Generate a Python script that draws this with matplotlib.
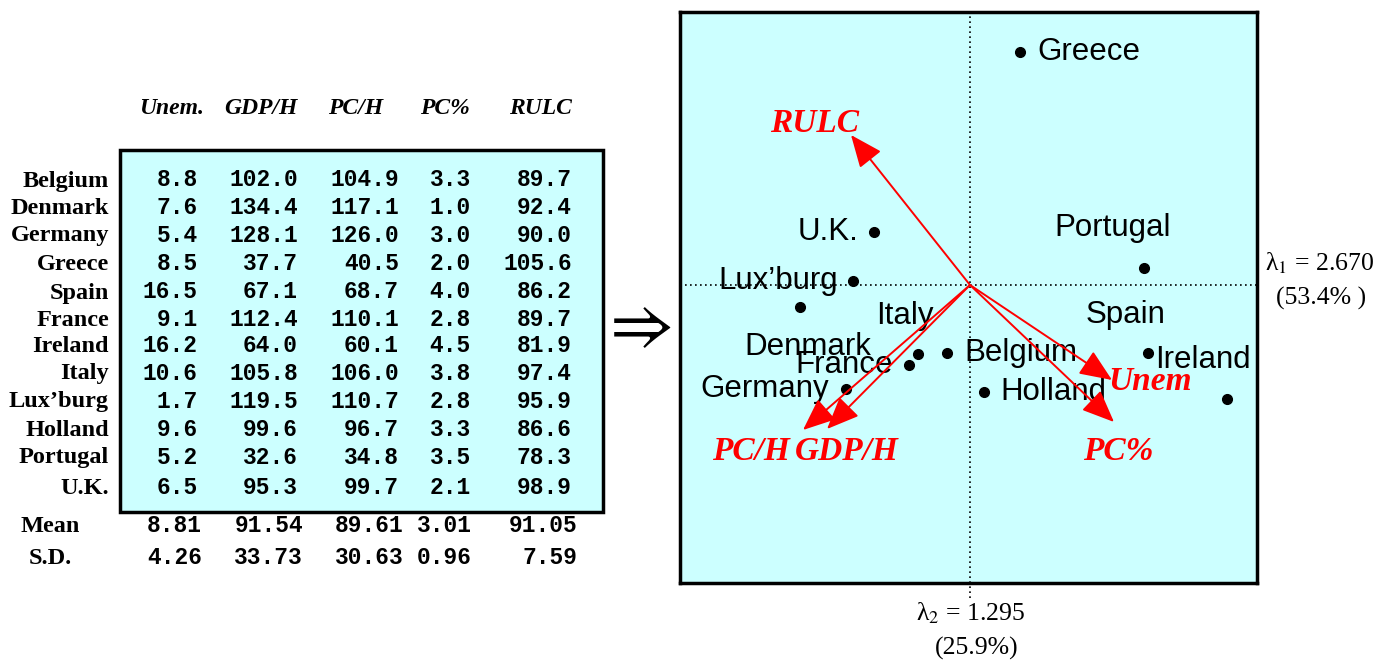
import matplotlib
matplotlib.use('Agg')
import matplotlib.pyplot as plt
from matplotlib.patches import Rectangle

plt.rcParams['mathtext.fontset'] = 'stix'

# table data
countries = ['Belgium', 'Denmark', 'Germany', 'Greece', 'Spain', 'France',
             'Ireland', 'Italy', "Lux\u2019burg", 'Holland', 'Portugal', 'U.K.']
variables = ['Unem.', 'GDP/H', 'PC/H', 'PC%', 'RULC']
unem = [8.8, 7.6, 5.4, 8.5, 16.5, 9.1, 16.2, 10.6, 1.7, 9.6, 5.2, 6.5]
gdph = [102.0, 134.4, 128.1, 37.7, 67.1, 112.4, 64.0, 105.8, 119.5, 99.6, 32.6, 95.3]
pch = [104.9, 117.1, 126.0, 40.5, 68.7, 110.1, 60.1, 106.0, 110.7, 96.7, 34.8, 99.7]
pcpct = [3.3, 1.0, 3.0, 2.0, 4.0, 2.8, 4.5, 3.8, 2.8, 3.3, 3.5, 2.1]
rulc = [89.7, 92.4, 90.0, 105.6, 86.2, 89.7, 81.9, 97.4, 95.9, 86.6, 78.3, 98.9]
means = [8.81, 91.54, 89.61, 3.01, 91.05]
sds = [4.26, 33.73, 30.63, 0.96, 7.59]

# biplot data (country scores and variable loadings, arbitrary units)
score_names = ['Greece', 'U.K.', 'Portugal', "Lux\u2019burg", 'Denmark', 'Italy',
               'Belgium', 'France', 'Germany', 'Holland', 'Spain', 'Ireland']
score_x = [0.50, -0.96, 1.74, -1.17, -1.70, -0.52, -0.23, -0.61, -1.24, 0.14, 1.78, 2.57]
score_y = [2.33, 0.53, 0.17, 0.04, -0.22, -0.69, -0.68, -0.80, -1.04, -1.07, -0.68, -1.14]
load_names = ['RULC', 'Unem', 'PC%', 'PC/H', 'GDP/H']
load_x = [-1.19, 1.42, 1.44, -1.67, -1.43]
load_y = [1.50, -0.95, -1.37, -1.45, -1.44]
eig = [2.670, 1.295]
pct = ['53.4% ', '25.9%']

cyan = '#CCFFFF'

fig = plt.figure(figsize=(13.91, 6.61), dpi=100)
bg = fig.add_axes([0, 0, 1, 1])
bg.set_xlim(0, 1391)
bg.set_ylim(661, 0)
bg.axis('off')

# ---- left table ----
bg.add_patch(Rectangle((120, 150), 483, 362, facecolor=cyan, edgecolor='black', lw=2.5))

col_head_x = [172, 261, 356, 445, 540]
for name, x in zip(variables, col_head_x):
    bg.text(x, 108, name, ha='center', va='center', family='Liberation Serif',
            weight='bold', style='italic', fontsize=17)

row_y = [181, 208, 236, 264, 293, 321, 347, 374, 402, 430, 458, 489]
col_right = [198, 298, 399, 471, 572]
cols = [unem, gdph, pch, pcpct, rulc]
for i, (c, y) in enumerate(zip(countries, row_y)):
    bg.text(109, y, c, ha='right', va='center', family='Liberation Serif',
            weight='bold', fontsize=17.5)
    for col, xr in zip(cols, col_right):
        bg.text(xr, y - 1, f'{col[i]:.1f}', ha='right', va='center',
                family='Liberation Mono', weight='bold', fontsize=16.5)

stat_right = [202, 303, 404, 472, 577]
for lab, vals, y in [('Mean', means, 527), ('S.D.', sds, 559)]:
    bg.text(50, y, lab, ha='center', va='center', family='Liberation Serif',
            weight='bold', fontsize=17.5)
    for v, xr in zip(vals, stat_right):
        bg.text(xr, y - 1, f'{v:.2f}', ha='right', va='center',
                family='Liberation Mono', weight='bold', fontsize=16.5)

bg.text(635, 326, r'$\Rightarrow$', ha='center', va='center', fontsize=50)

# ---- biplot ----
ax = fig.add_axes([680 / 1391, 1 - 583 / 661, 577 / 1391, 571 / 661])
ax.set_facecolor(cyan)
ax.set_xlim(-2.90, 2.87)
ax.set_ylim(-2.98, 2.73)
ax.set_xticks([])
ax.set_yticks([])
for s in ax.spines.values():
    s.set_linewidth(2.5)
    s.set_zorder(10)

ax.plot([-2.90, 2.87], [0, 0], color='black', lw=1.2, ls=(0, (1, 2)), zorder=4)
ax.plot([0, 0], [-3.13, 2.73], color='black', lw=1.2, ls=(0, (1, 2)), zorder=4,
        clip_on=False)

ax.plot(score_x, score_y, 'o', color='black', ms=7, zorder=5)

score_off = {
    'Greece': (17, 0, 'left'), 'U.K.': (-16, 0, 'right'), 'Portugal': (-31, 40, 'center'),
    "Lux\u2019burg": (-15, 0, 'right'), 'Denmark': (8, -40, 'center'),
    'Italy': (-13, 38, 'center'), 'Belgium': (17, 0, 'left'), 'France': (-16, 0, 'right'),
    'Germany': (-17, 0, 'right'), 'Holland': (16, 0, 'left'), 'Spain': (-22, 38, 'center'),
    'Ireland': (-24, 39, 'center'),
}
for n, x, y in zip(score_names, score_x, score_y):
    dx, dy, ha = score_off[n]
    ax.annotate(n, (x, y), xytext=(dx, dy), textcoords='offset pixels', ha=ha,
                va='center', family='Liberation Sans', fontsize=22.5, zorder=3)

load_off = {'RULC': (-36, 11), 'Unem': (38, -1), 'PC%': (4, -30),
            'PC/H': (-52, -22), 'GDP/H': (20, -23)}
for n, x, y in zip(load_names, load_x, load_y):
    ax.annotate('', xy=(x, y), xytext=(0, 0),
                arrowprops=dict(arrowstyle='-|>,head_length=1.0,head_width=0.42',
                                mutation_scale=20, color='red', lw=1.4,
                                shrinkA=0, shrinkB=0), zorder=6)
    dx, dy = load_off[n]
    ax.annotate(n, (x, y), xytext=(dx, dy), textcoords='offset pixels', ha='center',
                va='center', family='Liberation Serif', weight='bold', style='italic',
                color='red', fontsize=24, zorder=7)

bg.text(1265, 263, f'\u03bb$_1$ = {eig[0]:.3f}', ha='left', va='center',
        family='Liberation Serif', fontsize=18.5)
bg.text(1321, 298, f'({pct[0]})', ha='center', va='center',
        family='Liberation Serif', fontsize=18.5)
bg.text(971, 613, f'\u03bb$_2$ = {eig[1]:.3f}', ha='center', va='center',
        family='Liberation Serif', fontsize=18.5)
bg.text(977, 648, f'({pct[1]})', ha='center', va='center',
        family='Liberation Serif', fontsize=18.5)

fig.savefig('out.png', dpi=100)
